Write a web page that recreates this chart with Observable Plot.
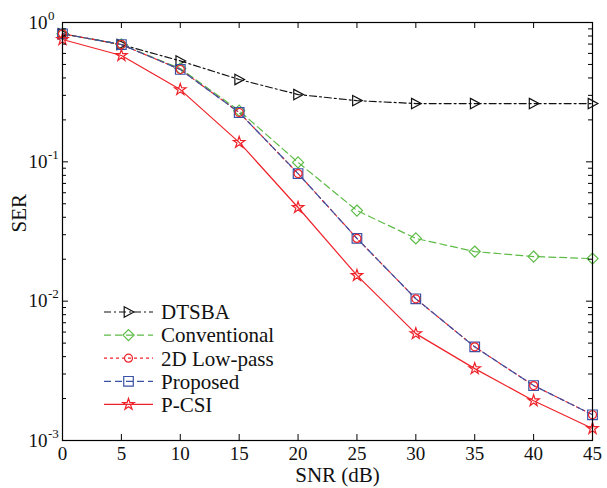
<!DOCTYPE html>
<html>
<head>
<meta charset="utf-8">
<script src="https://cdn.jsdelivr.net/npm/d3@7"></script>
<script src="https://cdn.jsdelivr.net/npm/@observablehq/plot@0.6"></script>
<style>
  html, body { margin: 0; padding: 0; background: #fff; }
  #chart { position: relative; width: 607px; height: 488px; }
</style>
</head>
<body>
<div id="chart"></div>
<script>
// ---- data ----
const snr = [0, 5, 10, 15, 20, 25, 30, 35, 40, 45];
const dtsba        = [0.83, 0.695, 0.53, 0.39, 0.304, 0.275, 0.262, 0.262, 0.262, 0.262];
const conventional = [0.83, 0.695, 0.467, 0.233, 0.099, 0.0447, 0.0282, 0.0227, 0.0209, 0.0202];
const lowpass2d    = [0.83, 0.695, 0.46, 0.226, 0.0824, 0.0282, 0.0104, 0.0047, 0.00248, 0.00153];
const proposed     = [0.83, 0.695, 0.46, 0.226, 0.0824, 0.0282, 0.0104, 0.0047, 0.00248, 0.00153];
const pcsi         = [0.755, 0.58, 0.33, 0.138, 0.047, 0.0153, 0.00585, 0.00328, 0.00193, 0.00122];

const seriesNames = ["DTSBA", "Conventional", "2D Low-pass", "Proposed", "P-CSI"];
const xTicks = [0, 5, 10, 15, 20, 25, 30, 35, 40, 45];
const yMajorTicks = [1e-3, 1e-2, 1e-1, 1];
const yMinorTicks = [1e-3, 1e-2, 1e-1].flatMap(d => [2,3,4,5,6,7,8,9].map(k => k * d));
const xLabel = "SNR (dB)";
const yLabel = "SER";

// ---- styles ----
const W = 607, H = 488;
const mL = 62, mR = 15, mT = 22, mB = 48;
const innerW = W - mL - mR, innerH = H - mT - mB;
const font = "'Liberation Serif', 'Times New Roman', serif";

const triRight = {
  draw(ctx, size) {
    const s = Math.sqrt(size / Math.PI);
    ctx.moveTo(-s, -1.2 * s);
    ctx.lineTo(1.25 * s, 0);
    ctx.lineTo(-s, 1.2 * s);
    ctx.closePath();
  }
};

const styles = [
  {color: "#111111", dash: "7,3,2,3", symbol: triRight, r: 4.3},
  {color: "#5dbb46", dash: "7,4", symbol: d3.symbolDiamond2, r: 5.0},
  {color: "#ee2229", dash: "3,3", symbol: d3.symbolCircle, r: 4.0},
  {color: "#3a52a4", dash: "7,4", symbol: d3.symbolSquare, r: 5.4},
  {color: "#ee2229", dash: null, symbol: d3.symbolStar, r: 3.6}
];
const valuesList = [dtsba, conventional, lowpass2d, proposed, pcsi];

const rows = valuesList.map(vals => snr.map((x, i) => ({snr: x, ser: vals[i]})));

const marks = [];
// lines
rows.forEach((data, k) => {
  const st = styles[k];
  marks.push(Plot.line(data, {x: "snr", y: "ser", stroke: st.color, strokeWidth: 1.2,
    strokeDasharray: st.dash || undefined}));
});
// markers (draw squares before circles)
[0, 1, 3, 2, 4].forEach(k => {
  const st = styles[k];
  marks.push(Plot.dot(rows[k], {x: "snr", y: "ser", symbol: () => st.symbol, r: st.r,
    stroke: st.color, fill: "none", strokeWidth: 1.2}));
});
// frame
marks.push(Plot.frame({stroke: "#000", strokeWidth: 1.2}));
// inward ticks
marks.push(Plot.tickX(xTicks, {x: d => d, insetTop: innerH - 6, stroke: "#000"}));
marks.push(Plot.tickX(xTicks, {x: d => d, insetBottom: innerH - 6, stroke: "#000"}));
marks.push(Plot.tickY(yMajorTicks, {y: d => d, insetRight: innerW - 6, stroke: "#000"}));
marks.push(Plot.tickY(yMajorTicks, {y: d => d, insetLeft: innerW - 6, stroke: "#000"}));
marks.push(Plot.tickY(yMinorTicks, {y: d => d, insetRight: innerW - 4, stroke: "#000"}));
marks.push(Plot.tickY(yMinorTicks, {y: d => d, insetLeft: innerW - 4, stroke: "#000"}));
// tick labels
marks.push(Plot.text(xTicks, {x: d => d, frameAnchor: "bottom", lineAnchor: "top", dy: 6,
  text: d => String(d), fontSize: 19, fill: "#111"}));
marks.push(Plot.text(yMajorTicks, {y: d => d, frameAnchor: "left", textAnchor: "end", dx: -15,
  text: () => "10", fontSize: 19, fill: "#111"}));
marks.push(Plot.text(yMajorTicks, {y: d => d, frameAnchor: "left", textAnchor: "start", dx: -14.5, dy: -7,
  text: d => String(Math.round(Math.log10(d))), fontSize: 13, fill: "#111"}));
// axis titles
marks.push(Plot.text([xLabel], {frameAnchor: "bottom", text: d => d, dx: 10, dy: 41, fontSize: 21, fill: "#111"}));
marks.push(Plot.text([yLabel], {frameAnchor: "left", text: d => d, rotate: -90, dx: -43.5, dy: 1, fontSize: 21, fill: "#111"}));

const chart = Plot.plot({
  width: W, height: H,
  marginLeft: mL, marginRight: mR, marginTop: mT, marginBottom: mB,
  style: {fontFamily: font, background: "#fff", overflow: "visible"},
  x: {type: "linear", domain: [0, 45], axis: null},
  y: {type: "log", domain: [1e-3, 1], axis: null},
  marks
});
document.getElementById("chart").appendChild(chart);

// ---- legend (inside plot, lower-left) ----
const svg = d3.select(chart);
const lg = svg.append("g").attr("font-family", font).attr("text-anchor", "start");
const rowY0 = 312, rowStep = 23.1;
const lineX1 = 104, lineX2 = 153, markX = 128.5, textX = 161;
seriesNames.forEach((name, k) => {
  const st = styles[k];
  const y = rowY0 + k * rowStep;
  lg.append("line").attr("x1", lineX1).attr("x2", lineX2).attr("y1", y).attr("y2", y)
    .attr("stroke", st.color).attr("stroke-width", 1.2)
    .attr("stroke-dasharray", st.dash || null);
  lg.append("path").attr("d", d3.symbol(st.symbol, Math.PI * st.r * st.r)())
    .attr("transform", `translate(${markX},${y})`)
    .attr("fill", "none").attr("stroke", st.color).attr("stroke-width", 1.2);
  lg.append("text").attr("x", textX).attr("y", y).attr("dy", "0.35em")
    .attr("text-anchor", "start")
    .attr("font-size", 21).attr("fill", "#111").text(name);
});
</script>
</body>
</html>
